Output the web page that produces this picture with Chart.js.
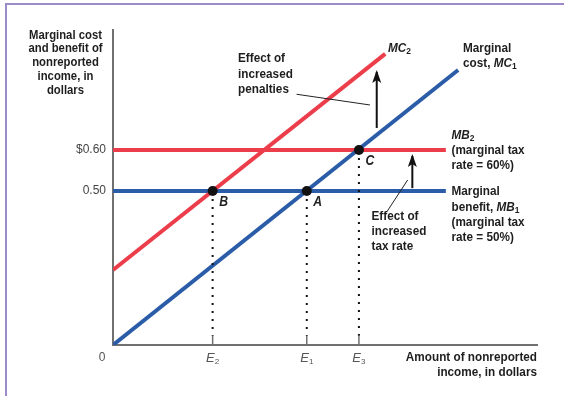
<!DOCTYPE html>
<html>
<head>
<meta charset="utf-8">
<script src="https://cdn.jsdelivr.net/npm/chart.js@4"></script>
<style>
  html, body { margin: 0; padding: 0; background: #fff; }
  #wrap { position: relative; width: 564px; height: 396px; overflow: hidden; }
  #frame { position: absolute; left: 5px; top: 3px; width: 600px; height: 500px;
           border-left: 2px solid #9d8bc8; border-top: 2px solid #9d8bc8; }
  canvas { position: absolute; left: 0; top: 0; }
</style>
</head>
<body>
<div id="wrap">
  <div id="frame"></div>
  <canvas id="chart" width="564" height="396"></canvas>
</div>
<script>
// axis ranges (abstract units, the diagram is stylized)
const xRange = [0, 100];
const yRange = [0, 100];

// y ticks: marginal benefit levels
const yTickValues = [48.9, 61.9];
const yTickLabels = ['0.50', '$0.60'];

// x ticks: equilibrium amounts E2, E1, E3
const eValues = [23.5, 45.7, 58.0];
const eSubs = ['2', '1', '3'];

// marginal cost curves
const mc1X = [0, 81.4];
const mc1Y = [0, 87.3];
const mc2X = [0, 64.2];
const mc2Y = [23.8, 92.4];

// marginal benefit lines (flat)
const mbX = [0, 78.5];
const mb1Y = 48.9;
const mb2Y = 61.9;

// equilibrium points
const pointNames = ['A', 'B', 'C'];
const pointX = [45.7, 23.5, 58.0];
const pointY = [48.9, 48.9, 61.9];

// shift arrows
const arrow1X = [62.2, 62.2];
const arrow1Y = [68.9, 86.7];
const arrow2X = [70.6, 70.6];
const arrow2Y = [49.8, 60.0];

// leader lines for the two "Effect of" notes
const leader1X = [43.3, 60.6];
const leader1Y = [79.6, 76.2];
const leader2X = [69.5, 64.6];
const leader2Y = [52.4, 42.3];

const RED = '#ec3d4b';
const BLUE = '#2b5ca8';
const AXIS = '#707070';
const FONT = '"Liberation Sans", Arial, sans-serif';
const NARROW = 0.87; // squeeze to look like a condensed face

function pts(xs, ys) {
    return xs.map((x, i) => ({ x: x, y: ys[i] }));
}

let datasets = [];

datasets.push({ data: pts(mbX, [mb2Y, mb2Y]), borderColor: RED, borderWidth: 4, order: 10 });
datasets.push({ data: pts(mbX, [mb1Y, mb1Y]), borderColor: BLUE, borderWidth: 4, order: 10 });
datasets.push({ data: pts(mc2X, mc2Y), borderColor: RED, borderWidth: 4, order: 9 });
datasets.push({ data: pts(mc1X, mc1Y), borderColor: BLUE, borderWidth: 4, order: 8 });

// dotted drop lines and small ticks on the x axis
pointX.forEach((x, i) => {
    datasets.push({ data: [{ x: x, y: pointY[i] }, { x: x, y: 2.9 }], borderColor: '#111',
        borderWidth: 2, borderDash: [2, 6], order: 5 });
});
eValues.forEach((x) => {
    datasets.push({ data: [{ x: x, y: 0 }, { x: x, y: 2.9 }], borderColor: AXIS, borderWidth: 1.5, order: 5 });
});

datasets.push({ data: pts(leader1X, leader1Y), borderColor: '#222', borderWidth: 1, order: 4 });
datasets.push({ data: pts(leader2X, leader2Y), borderColor: '#222', borderWidth: 1, order: 4 });
datasets.push({ data: pts(arrow1X, arrow1Y), borderColor: '#111', borderWidth: 2, arrow: true, order: 3 });
datasets.push({ data: pts(arrow2X, arrow2Y), borderColor: '#111', borderWidth: 2, arrow: true, order: 3 });

datasets.push({ data: pts(pointX, pointY), showLine: false, pointRadius: 5,
    pointBackgroundColor: '#111', pointBorderWidth: 0, order: 1 });

// draw rich text: segments of [text, kind]; b = bold, bi = bold italic, sub = subscript
function rich(ctx, x, y, segs, align, size) {
    let fontFor = (k) => {
        let s = k === 'sub' ? size * 0.72 : size;
        let style = k === 'bi' ? 'italic bold ' : 'bold ';
        return style + s + 'px ' + FONT;
    };
    let w = 0;
    segs.forEach(s => { ctx.font = fontFor(s[1]); w += ctx.measureText(s[0]).width * NARROW; });
    let cx = align === 'center' ? x - w / 2 : (align === 'right' ? x - w : x);
    ctx.textAlign = 'left';
    ctx.textBaseline = 'middle';
    segs.forEach(s => {
        ctx.font = fontFor(s[1]);
        ctx.save();
        ctx.translate(cx, s[1] === 'sub' ? y + size * 0.25 : y);
        ctx.scale(NARROW, 1);
        ctx.fillText(s[0], 0, 0);
        ctx.restore();
        cx += ctx.measureText(s[0]).width * NARROW;
    });
}

const decorations = {
    id: 'decorations',
    afterDatasetsDraw(chart) {
        const ctx = chart.ctx;
        const xs = chart.scales.x, ys = chart.scales.y;
        ctx.save();

        // arrowheads at the end of arrow datasets
        chart.data.datasets.forEach(ds => {
            if (!ds.arrow) return;
            let p = ds.data[ds.data.length - 1];
            let px = xs.getPixelForValue(p.x), py = ys.getPixelForValue(p.y);
            ctx.fillStyle = '#111';
            ctx.beginPath();
            ctx.moveTo(px, py - 2);
            ctx.lineTo(px + 4.5, py + 11);
            ctx.lineTo(px, py + 8);
            ctx.lineTo(px - 4.5, py + 11);
            ctx.closePath();
            ctx.fill();
        });

        // point letters
        ctx.fillStyle = '#222';
        pointNames.forEach((n, i) => {
            let px = xs.getPixelForValue(pointX[i]), py = ys.getPixelForValue(pointY[i]);
            rich(ctx, px + 11, py + 11, [[n, 'bi']], 'center', 14);
        });

        // x tick labels
        ctx.fillStyle = '#555';
        ctx.font = '12px ' + FONT;
        ctx.textAlign = 'center';
        ctx.textBaseline = 'middle';
        ctx.fillText('0', xs.getPixelForValue(0) - 11, ys.bottom + 13);
        eValues.forEach((v, i) => {
            let px = xs.getPixelForValue(v);
            ctx.font = 'italic 13px ' + FONT;
            let w1 = ctx.measureText('E').width;
            ctx.font = '8px ' + FONT;
            let w2 = ctx.measureText(eSubs[i]).width;
            let sx = px - (w1 + w2) / 2;
            ctx.textAlign = 'left';
            ctx.font = 'italic 13px ' + FONT;
            ctx.fillText('E', sx, ys.bottom + 13);
            ctx.font = '8px ' + FONT;
            ctx.fillText(eSubs[i], sx + w1, ys.bottom + 17);
        });

        ctx.fillStyle = '#1e1e1e';
        // y axis title
        ['Marginal cost', 'and benefit of', 'nonreported', 'income, in', 'dollars'].forEach((t, i) => {
            rich(ctx, 65.5, 35 + i * 13.75, [[t, 'b']], 'center', 13);
        });
        // x axis title
        rich(ctx, 537, 357.7, [['Amount of nonreported', 'b']], 'right', 13.5);
        rich(ctx, 537, 372.3, [['income, in dollars', 'b']], 'right', 13.5);

        // curve labels
        rich(ctx, 388, 48.3, [['MC', 'bi'], ['2', 'sub']], 'left', 13.5);
        rich(ctx, 463, 48.3, [['Marginal', 'b']], 'left', 13.5);
        rich(ctx, 463, 63.3, [['cost, ', 'b'], ['MC', 'bi'], ['1', 'sub']], 'left', 13.5);

        rich(ctx, 451.5, 135, [['MB', 'bi'], ['2', 'sub']], 'left', 13.5);
        rich(ctx, 451.5, 150, [['(marginal tax', 'b']], 'left', 13.5);
        rich(ctx, 451.5, 165, [['rate = 60%)', 'b']], 'left', 13.5);
        rich(ctx, 451.5, 191.7, [['Marginal', 'b']], 'left', 13.5);
        rich(ctx, 451.5, 207.3, [['benefit, ', 'b'], ['MB', 'bi'], ['1', 'sub']], 'left', 13.5);
        rich(ctx, 451.5, 222.7, [['(marginal tax', 'b']], 'left', 13.5);
        rich(ctx, 451.5, 237.3, [['rate = 50%)', 'b']], 'left', 13.5);

        // effect notes
        ['Effect of', 'increased', 'penalties'].forEach((t, i) => {
            rich(ctx, 238, 58.3 + i * 15.5, [[t, 'b']], 'left', 13.5);
        });
        ['Effect of', 'increased', 'tax rate'].forEach((t, i) => {
            rich(ctx, 371.5, 216.7 + i * 15, [[t, 'b']], 'left', 13.5);
        });

        ctx.restore();
    }
};

new Chart(document.getElementById('chart').getContext('2d'), {
    type: 'scatter',
    data: { datasets: datasets },
    options: {
        responsive: false,
        animation: false,
        devicePixelRatio: 1,
        layout: { padding: { left: 0, top: 30, right: 27, bottom: 0 } },
        plugins: { legend: { display: false }, tooltip: { enabled: false } },
        elements: { point: { radius: 0 }, line: { tension: 0, fill: false } },
        showLine: true,
        scales: {
            x: {
                type: 'linear', min: xRange[0], max: xRange[1],
                grid: { display: false },
                border: { color: AXIS, width: 2 },
                ticks: { display: false },
                afterFit(scale) { scale.height = 51; }
            },
            y: {
                type: 'linear', min: yRange[0], max: yRange[1],
                grid: { display: false, drawTicks: false },
                border: { color: AXIS, width: 2 },
                afterBuildTicks(scale) { scale.ticks = yTickValues.map(v => ({ value: v })); },
                ticks: {
                    padding: 7,
                    color: '#444',
                    font: { family: '"Liberation Sans", sans-serif', size: 12 },
                    callback: (v) => yTickLabels[yTickValues.indexOf(v)]
                },
                afterFit(scale) { scale.width = 113; }
            }
        }
    },
    plugins: [decorations]
});
</script>
</body>
</html>
